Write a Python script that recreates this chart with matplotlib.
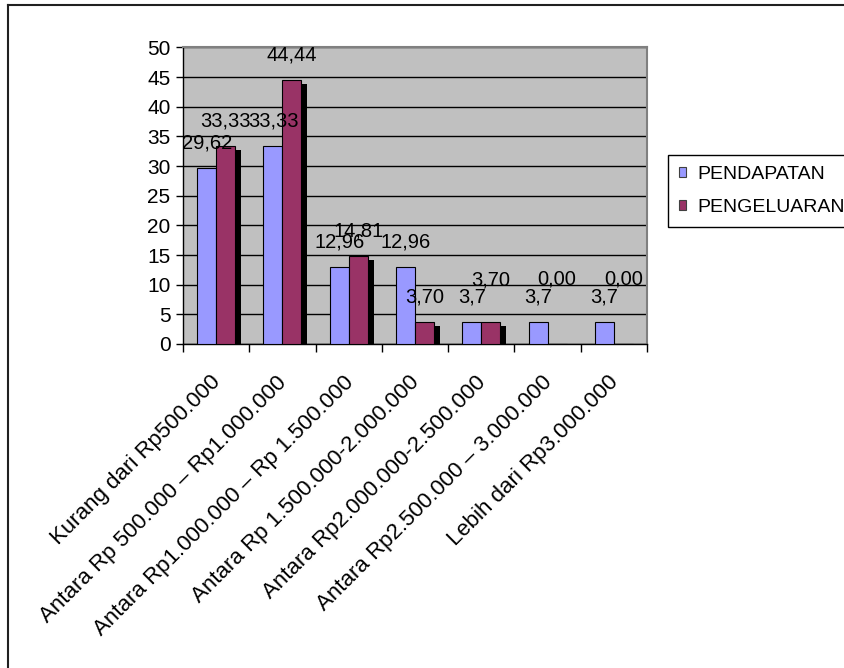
import matplotlib
matplotlib.use("Agg")
import matplotlib.pyplot as plt
import matplotlib.patheffects as pe
import matplotlib.transforms as mtransforms
from matplotlib.lines import Line2D
from matplotlib.patches import Patch
import numpy as np

plt.rcParams['font.family'] = ['Liberation Sans', 'DejaVu Sans']

kategori = [
    "Kurang dari Rp500.000",
    "Antara Rp 500.000 \u2013 Rp1.000.000",
    "Antara Rp1.000.000 \u2013 Rp 1.500.000",
    "Antara Rp 1.500.000-2.000.000",
    "Antara Rp2.000.000-2.500.000",
    "Antara Rp2.500.000 \u2013 3.000.000",
    "Lebih dari Rp3.000.000",
]
pendapatan = [29.62, 33.33, 12.96, 12.96, 3.7, 3.7, 3.7]
pengeluaran = [33.33, 44.44, 14.81, 3.70, 3.70, 0.00, 0.00]
label_pendapatan = ["29,62", "33,33", "12,96", "12,96", "3,7", "3,7", "3,7"]
label_pengeluaran = ["33,33", "44,44", "14,81", "3,70", "3,70", "0,00", "0,00"]
# extra lift (pixels) of the labels above their bars
naik_pendapatan = [20, 20, 20, 20, 20, 20, 20]
naik_pengeluaran = [20, 20, 20, 20, 37, 59, 59]

warna_pendapatan = '#9999FF'
warna_pengeluaran = '#993366'

W, H = 844, 668
fig = plt.figure(figsize=(W / 100, H / 100), dpi=100)
ax = fig.add_axes([183 / W, 1 - 344 / H, (647 - 183) / W, (344 - 47.5) / H])
ax.set_facecolor('#C0C0C0')

x = np.arange(len(kategori)) + 0.5
w = 0.2857

b1 = ax.bar(x - w / 2, pendapatan, w, color=warna_pendapatan, edgecolor='black',
            linewidth=0.8, zorder=3)
b2 = ax.bar(x + w / 2, pengeluaran, w, color=warna_pengeluaran, edgecolor='black',
            linewidth=0.8, zorder=3)
for r in b2:
    if r.get_height() > 0:
        r.set_path_effects([pe.SimplePatchShadow(offset=(4.3, -2.9), shadow_rgbFace='black',
                                                 alpha=1.0), pe.Normal()])

for bars, teks, naik in [(b1, label_pendapatan, naik_pendapatan),
                         (b2, label_pengeluaran, naik_pengeluaran)]:
    for r, t, n in zip(bars, teks, naik):
        ax.annotate(t, (r.get_x() + r.get_width() / 2, r.get_height()),
                    xytext=(0, n), textcoords='offset pixels',
                    ha='center', va='baseline', fontsize=14.5, zorder=5)

ax.set_xlim(0, 7)
ax.set_ylim(0, 50)
ax.set_yticks(np.arange(0, 51, 5))
ax.yaxis.grid(True, color='black', linewidth=1.0, zorder=1)
ax.set_axisbelow(True)

ax.set_xticks(np.arange(0, 8))
ax.set_xticklabels([])
ax.set_xticks(x, minor=True)
ax.set_xticklabels(kategori, minor=True, rotation=45, ha='right', va='top',
                   rotation_mode='anchor', fontsize=16)
ax.tick_params(axis='x', which='minor', length=0, pad=20)
ax.tick_params(axis='x', which='major', length=6, width=1, direction='out')
ax.tick_params(axis='y', length=5, width=1, direction='out', labelsize=15, pad=4)
geser = mtransforms.ScaledTranslation(-6 / 100, 0, fig.dpi_scale_trans)
for lbl in ax.get_xticklabels(minor=True):
    lbl.set_transform(lbl.get_transform() + geser)

for s in ['top', 'right']:
    ax.spines[s].set_color('#808080')
    ax.spines[s].set_linewidth(1.5)
for s in ['left', 'bottom']:
    ax.spines[s].set_color('black')
    ax.spines[s].set_linewidth(1.0)

handles = [Patch(facecolor=warna_pendapatan, edgecolor='#404040', linewidth=0.8),
           Patch(facecolor=warna_pengeluaran, edgecolor='#404040', linewidth=0.8)]
leg = fig.legend(handles, ['PENDAPATAN', 'PENGELUARAN'], loc='upper left',
                 bbox_to_anchor=(668 / W, 1 - 155 / H),
                 frameon=True, fancybox=False, edgecolor='black', framealpha=1,
                 fontsize=14, handlelength=0.4, handleheight=0.4,
                 handletextpad=0.55, labelspacing=0.85, borderpad=0.55,
                 borderaxespad=0)
leg.get_frame().set_linewidth(1.0)

# frame around the chart object
fig.add_artist(Line2D([8 / W, 8 / W], [0, 1 - 5 / H], color='#202020', linewidth=1.5))
fig.add_artist(Line2D([8 / W, 1], [1 - 5 / H, 1 - 5 / H], color='#202020', linewidth=1.5))

fig.savefig('out.png', dpi=100)
